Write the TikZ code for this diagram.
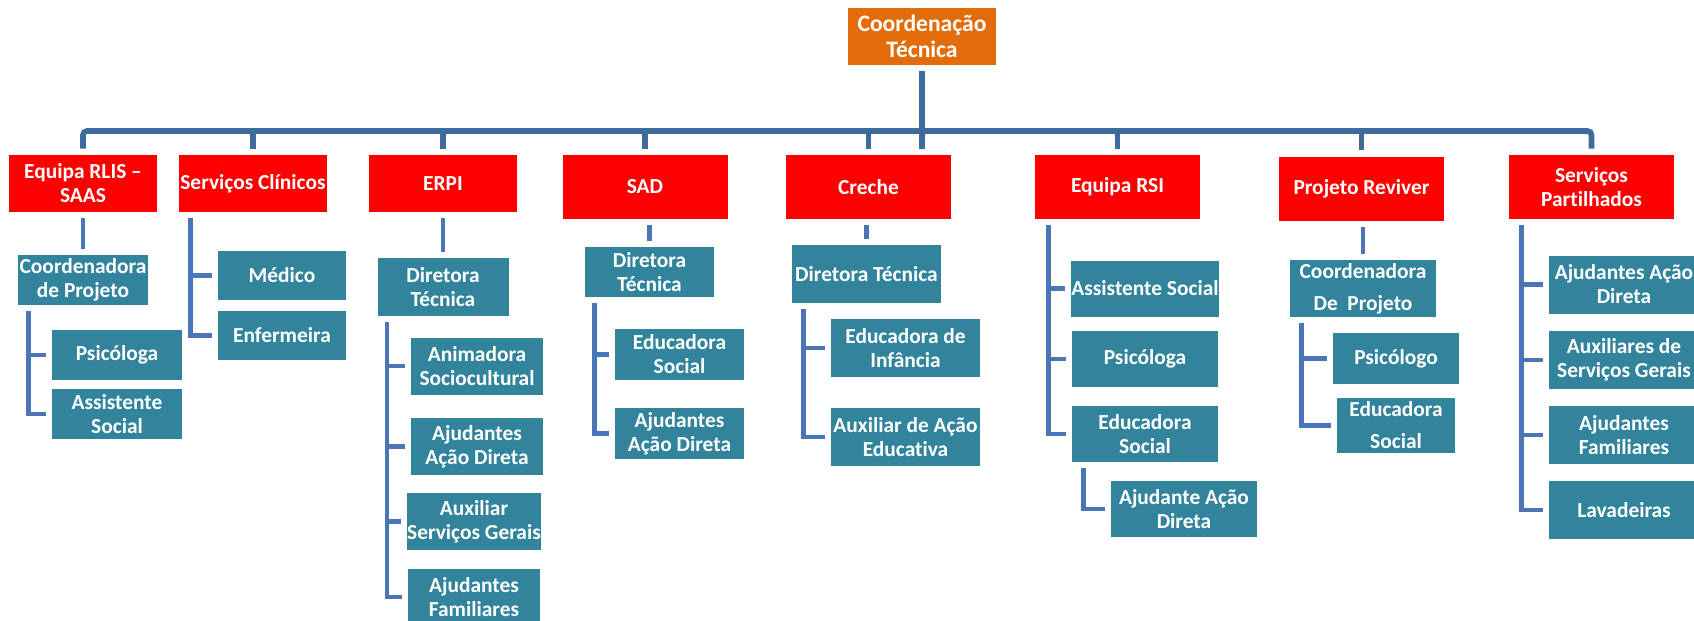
\documentclass[tikz,border=0pt]{standalone}
\usepackage{fontspec}
\setmainfont{Carlito}[Ligatures={TeX,NoCommon}]
\definecolor{corTopo}{RGB}{227,108,10}
\definecolor{corArea}{RGB}{255,0,0}
\definecolor{corCargo}{RGB}{49,132,155}
\definecolor{corBarra}{RGB}{63,106,158}
\definecolor{corLiga}{RGB}{74,118,181}

\begin{document}
\begin{tikzpicture}[x=0.5pt, y=-0.5pt,
  caixa/.style={rectangle, inner sep=0pt, align=center, text=white,
    font=\fontsize{10.7}{12}\selectfont\bfseries},
  topo/.style={caixa, fill=corTopo, minimum width=74pt, minimum height=28.5pt,
    font=\fontsize{11.8}{13.3}\selectfont\bfseries},
  area/.style={caixa, fill=corArea, minimum width=74pt, minimum height=28.5pt},
  arealarga/.style={area, minimum width=82.5pt, minimum height=32pt},
  cargo/.style={caixa, fill=corCargo},
  folga/.style={shorten <=3pt, shorten >=3pt},
  barra/.style={draw=corBarra, line width=2.8pt},
  liga/.style={draw=corLiga, line width=2.3pt, folga}]
\useasboundingbox (0,0) rectangle (1694,621);

\node[topo] (coord) at (922,36.5) {Coordenação\\Técnica};

% areas
\node[area] (rlis) at (83,183.5) {Equipa RLIS –\\SAAS};
\node[area] (clin) at (253,183.5) {Serviços Clínicos};
\node[area] (erpi) at (443,183.5) {ERPI};
\node[arealarga] (sad) at (645,187) {SAD};
\node[arealarga] (creche) at (868.5,187) {Creche};
\node[arealarga] (rsi) at (1117.5,187) {Equipa RSI};
\node[arealarga] (reviver) at (1361.5,188.5) {Projeto Reviver};
\node[arealarga] (part) at (1591.5,187) {Serviços\\Partilhados};

% Equipa RLIS - SAAS
\node[cargo, minimum width=65pt, minimum height=25pt] (rlisCoord) at (83,280) {Coordenadora\\de Projeto};
\node[cargo, minimum width=65pt, minimum height=25pt] (rlisPsi) at (117,355) {Psicóloga};
\node[cargo, minimum width=65pt, minimum height=25pt] (rlisAss) at (117,414) {Assistente\\Social};

% Servicos Clinicos
\node[cargo, minimum width=64pt, minimum height=24.5pt] (clinMed) at (282,275.5) {Médico};
\node[cargo, minimum width=64pt, minimum height=24.5pt] (clinEnf) at (282,335.5) {Enfermeira};

% ERPI
\node[cargo, minimum width=65.5pt, minimum height=29pt] (erpiDir) at (443,287) {Diretora\\Técnica};
\node[cargo, minimum width=66pt, minimum height=28.5pt] (erpiAni) at (477,366) {Animadora\\Sociocultural};
\node[cargo, minimum width=66pt, minimum height=28.5pt] (erpiAju) at (477,446.5) {Ajudantes\\Ação Direta};
\node[cargo, minimum width=66pt, minimum height=28.5pt] (erpiAux) at (474,521.5) {Auxiliar\\Serviços Gerais};
\node[cargo, minimum width=66pt, minimum height=28.5pt] (erpiFam) at (474,597) {Ajudantes\\Familiares};

% SAD
\node[cargo, minimum width=64.5pt, minimum height=25pt] (sadDir) at (649.5,272) {Diretora\\Técnica};
\node[cargo, minimum width=64.5pt, minimum height=25.5pt] (sadEdu) at (679.5,354.5) {Educadora\\Social};
\node[cargo, minimum width=64.5pt, minimum height=25.5pt] (sadAju) at (679.5,433.5) {Ajudantes\\Ação Direta};

% Creche
\node[cargo, minimum width=74.5pt, minimum height=29pt] (creDir) at (866.5,274) {Diretora Técnica};
\node[cargo, minimum width=74.5pt, minimum height=29pt] (creEdu) at (905.5,348) {Educadora de\\Infância};
\node[cargo, minimum width=74.5pt, minimum height=29pt] (creAux) at (905.5,437) {Auxiliar de Ação\\Educativa};

% Equipa RSI
\node[cargo, minimum width=73pt, minimum height=28pt] (rsiAss) at (1145,288.5) {Assistente Social};
\node[cargo, minimum width=73pt, minimum height=28pt] (rsiPsi) at (1145,359) {Psicóloga};
\node[cargo, minimum width=73pt, minimum height=28pt] (rsiEdu) at (1145,434) {Educadora\\Social};
\node[cargo, minimum width=73pt, minimum height=28pt] (rsiAju) at (1184,509) {Ajudante Ação\\Direta};

% Projeto Reviver
\node[cargo, minimum width=73pt, minimum height=28.5pt] (revCoord) at (1363,288.5) {Coordenadora\\[4pt]De~ Projeto};
\node[cargo, minimum width=63pt, minimum height=25.5pt] (revPsi) at (1396,358.5) {Psicólogo};
\node[cargo, minimum width=59pt, minimum height=27.5pt] (revEdu) at (1396,425.5) {Educadora\\[4pt]Social};

% Servicos Partilhados
\node[cargo, minimum width=75pt, minimum height=29pt] (partAju) at (1624,284.5) {Ajudantes Ação\\Direta};
\node[cargo, minimum width=75pt, minimum height=29pt] (partAux) at (1624,360) {Auxiliares de\\Serviços Gerais};
\node[cargo, minimum width=75pt, minimum height=29pt] (partFam) at (1624,435) {Ajudantes\\Familiares};
\node[cargo, minimum width=75pt, minimum height=29pt] (partLav) at (1624,510) {Lavadeiras};

% barramento
\coordinate (bus) at (0,131);
\draw[barra, folga] (coord.south) -- (coord.south |- creche.north);
\draw[barra, folga, rounded corners=2pt] (rlis.north) |- (bus -| part.north) -- (part.north);
\foreach \n in {clin,erpi,sad,creche,rsi,reviver}
  \draw[barra, shorten <=3pt] (\n.north) -- (bus -| \n.north);

% ligacoes
\draw[liga] (rlis.south) -- (rlisCoord.north);
\draw[liga] (erpi.south) -- (erpiDir.north);
\draw[liga] (sad.south -| sadDir.north) -- (sadDir.north);
\draw[liga] (creche.south -| creDir.north) -- (creDir.north);
\draw[liga] (reviver.south -| revCoord.north) -- (revCoord.north);

\foreach \f in {rlisPsi,rlisAss}
  \draw[liga] ([xshift=5.3pt]rlisCoord.south west) |- (\f.west);
\foreach \f in {clinMed,clinEnf}
  \draw[liga] ([xshift=6pt]clin.south west) |- (\f.west);
\foreach \f in {erpiAni,erpiAju,erpiAux,erpiFam}
  \draw[liga] ([xshift=5pt]erpiDir.south west) |- (\f.west);
\foreach \f in {sadEdu,sadAju}
  \draw[liga] ([xshift=5pt]sadDir.south west) |- (\f.west);
\foreach \f in {creEdu,creAux}
  \draw[liga] ([xshift=6pt]creDir.south west) |- (\f.west);
\foreach \f in {rsiAss,rsiPsi,rsiEdu}
  \draw[liga] ([xshift=7pt]rsi.south west) |- (\f.west);
\draw[liga] ([xshift=6pt]rsiEdu.south west) |- (rsiAju.west);
\foreach \f in {revPsi,revEdu}
  \draw[liga] ([xshift=6pt]revCoord.south west) |- (\f.west);
\foreach \f in {partAju,partAux,partFam,partLav}
  \draw[liga] ([xshift=6.5pt]part.south west) |- (\f.west);

\end{tikzpicture}
\end{document}
